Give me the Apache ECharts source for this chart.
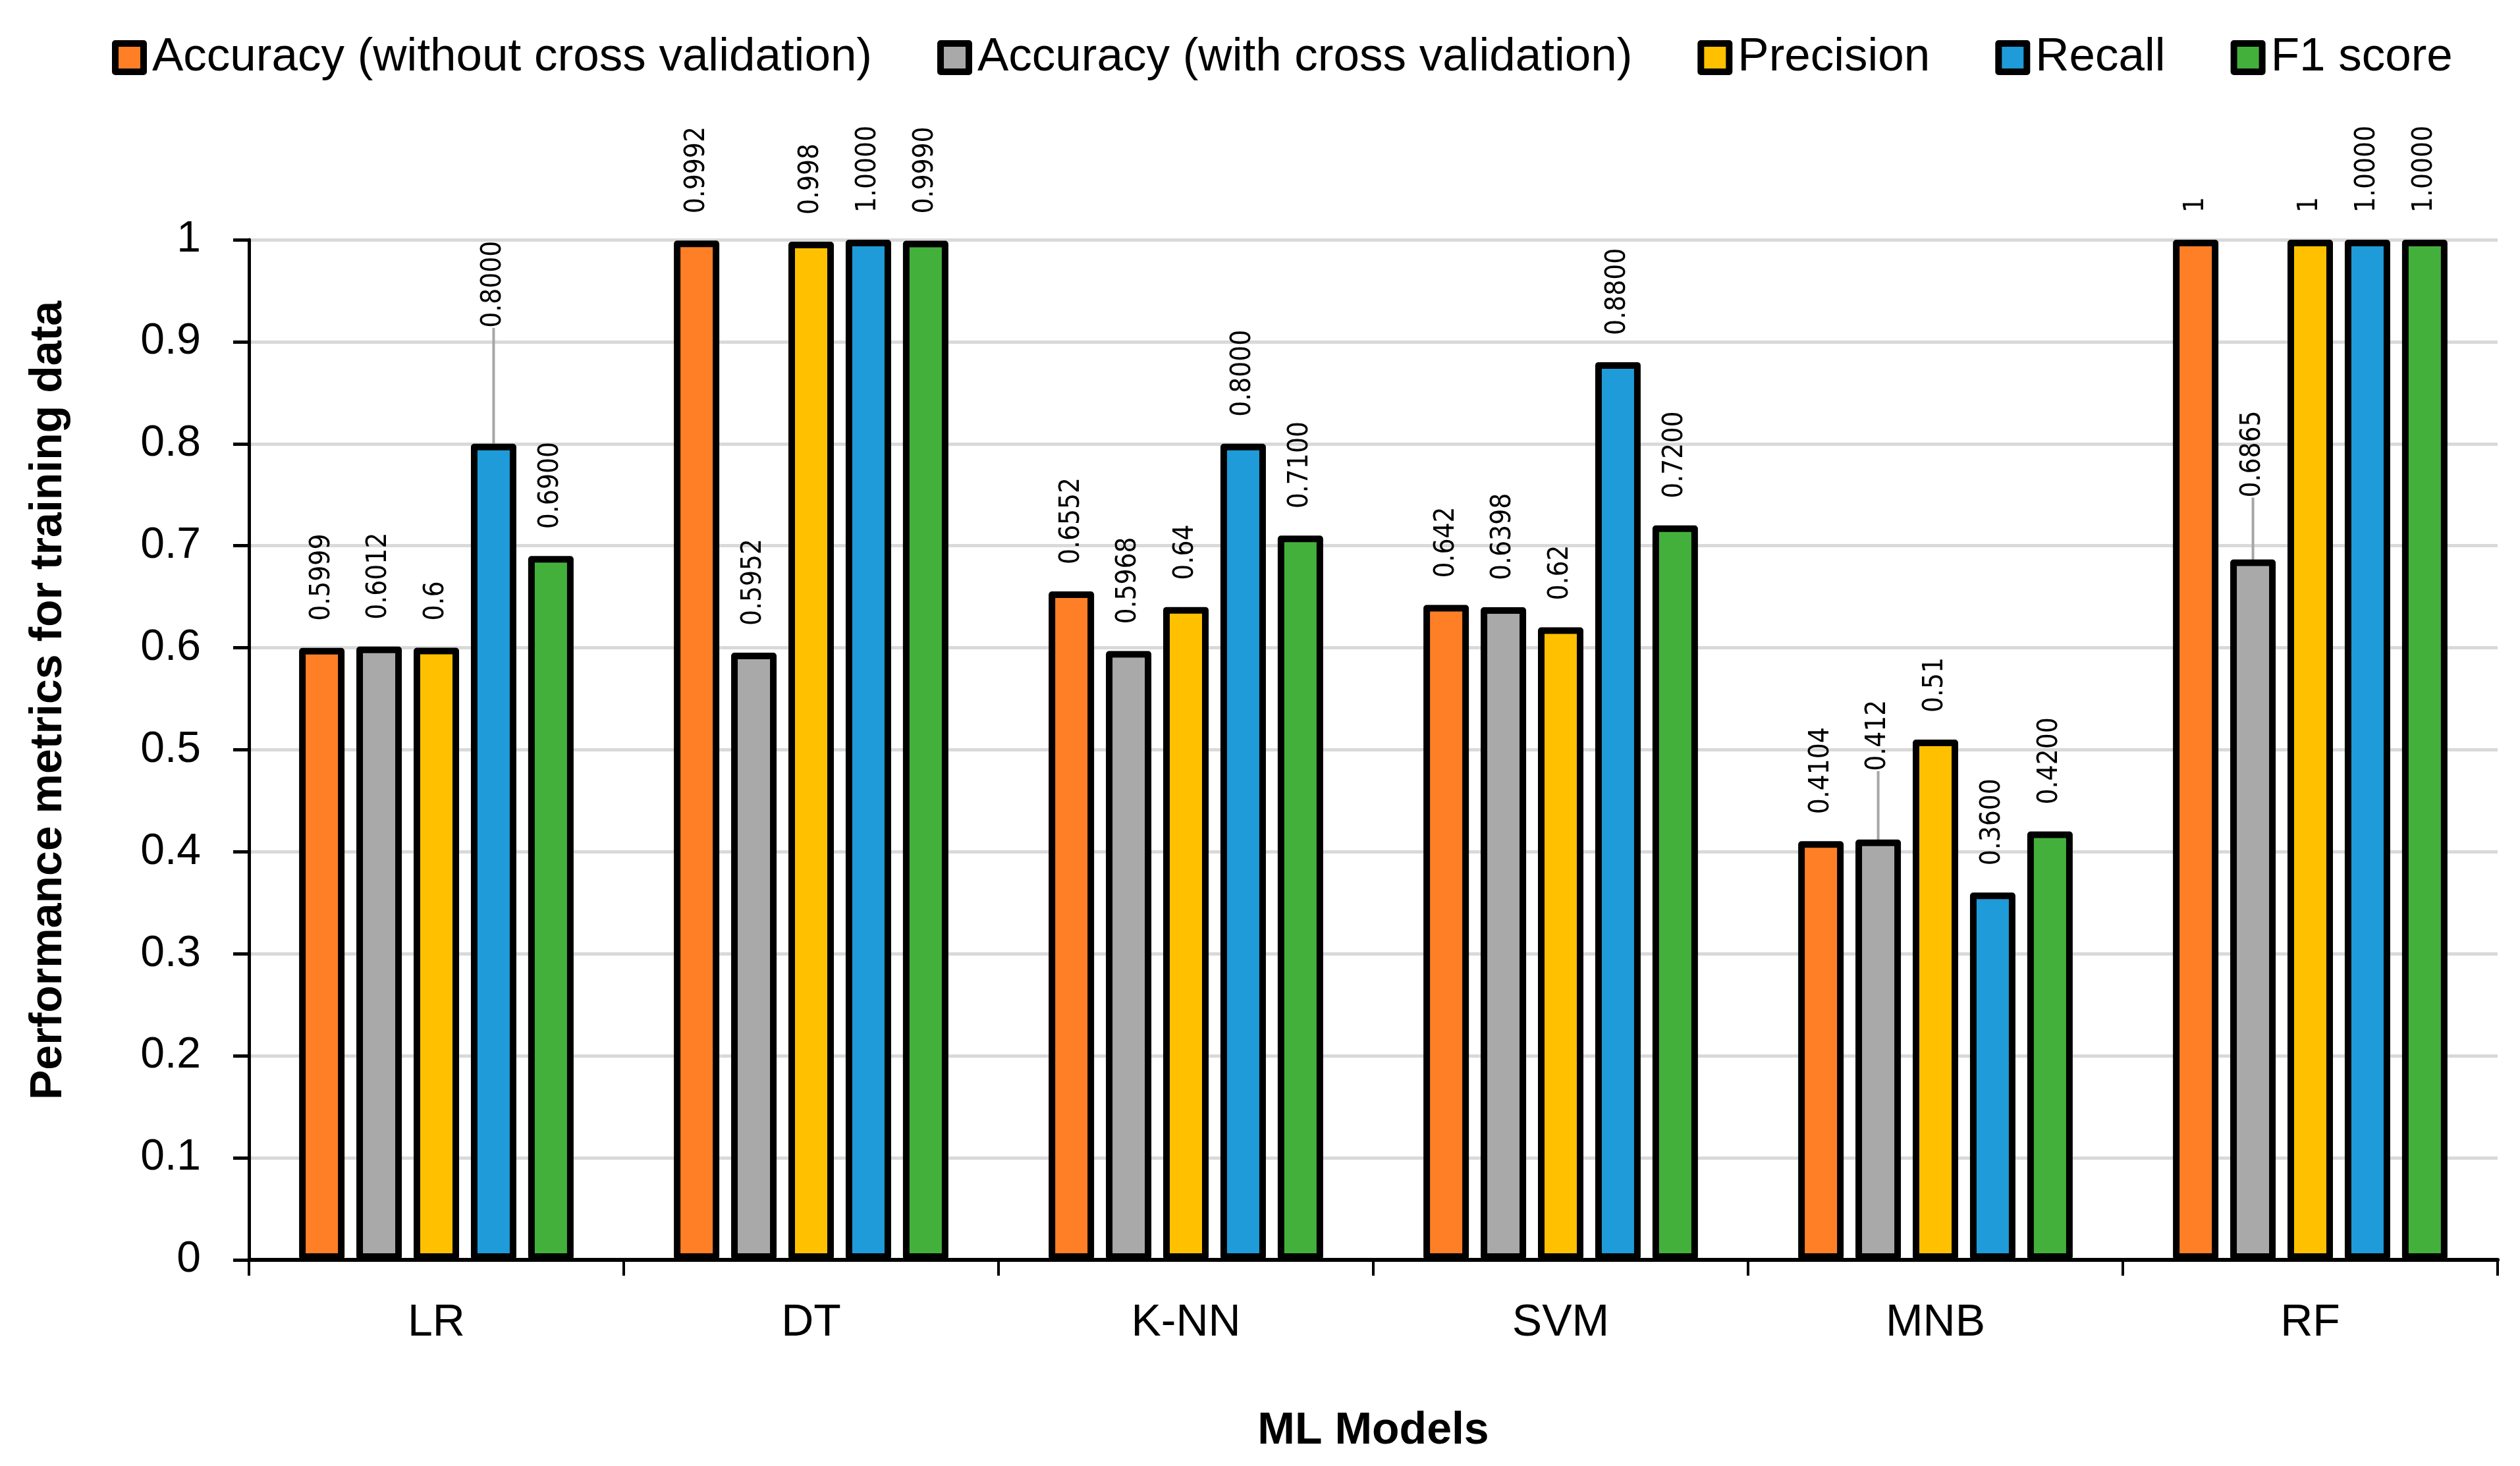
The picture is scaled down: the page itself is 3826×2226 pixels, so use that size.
<!DOCTYPE html>
<html><head><meta charset="utf-8">
<script src="https://cdn.jsdelivr.net/npm/echarts@6/dist/echarts.min.js"></script>
<style>html,body{margin:0;padding:0;background:#fff}#c{width:3826px;height:2226px}</style>
</head><body><div id="c"></div>
<script>
const categories = ['LR', 'DT', 'K-NN', 'SVM', 'MNB', 'RF'];
const seriesNames = ['Accuracy (without cross validation)', 'Accuracy (with cross validation)', 'Precision', 'Recall', 'F1 score'];
const accNoCV = [0.5999, 0.9992, 0.6552, 0.642, 0.4104, 1];
const accCV = [0.6012, 0.5952, 0.5968, 0.6398, 0.412, 0.6865];
const precision = [0.6, 0.998, 0.64, 0.62, 0.51, 1];
const recall = [0.8, 1, 0.8, 0.88, 0.36, 1];
const f1 = [0.69, 0.999, 0.71, 0.72, 0.42, 1];
const yMin = 0, yMax = 1, yStep = 0.1;

// styling
const colors = ['#FF7F27', '#A9A9A9', '#FFC000', '#1E9BD8', '#44B03C'];
const labelDecimals = [null, null, null, 4, 4];
// labels moved by hand in the original (pixel offsets upward, with leader line)
const labelShifts = [{}, {4: 63, 5: 53}, {}, {0: 135}, {}];

const values = [accNoCV, accCV, precision, recall, f1];
const FONT = 'Liberation Sans, Arial, sans-serif';

const chart = echarts.init(document.getElementById('c'), null, {renderer: 'canvas'});

const series = values.map((vals, si) => ({
  name: seriesNames[si],
  type: 'bar',
  barWidth: 69,
  barGap: '26%',
  clip: false,
  itemStyle: {color: colors[si], borderColor: '#000', borderWidth: 10, borderJoin: 'round'},
  label: {
    show: true,
    position: 'top',
    rotate: 90,
    align: 'left',
    verticalAlign: 'middle',
    distance: 41,
    fontFamily: 'DejaVu Sans Condensed, DejaVu Sans, sans-serif',
    fontSize: 42,
    color: '#000',
    formatter: p => labelDecimals[si] ? Number(p.value).toFixed(labelDecimals[si]) : String(p.value)
  },
  labelLayout: p => {
    const d = labelShifts[si][p.dataIndex];
    return d ? {dx: d} : {};
  },
  data: vals.map((v, i) => labelShifts[si][i] ? {
    value: v,
    labelLine: {show: true, lineStyle: {color: '#A6A6A6', width: 4}}
  } : v)
}));

chart.setOption({
  animation: false,
  backgroundColor: '#fff',
  legend: {
    left: 170,
    top: 52,
    padding: 0,
    itemWidth: 43,
    itemHeight: 43,
    itemGap: 99,
    icon: 'rect',
    itemStyle: {borderColor: '#000', borderWidth: 10},
    textStyle: {fontFamily: FONT, fontSize: 71, color: '#000', padding: [0, 0, 0, 8]},
    data: seriesNames
  },
  grid: {left: 378, right: 34, top: 364, bottom: 313, containLabel: false},
  xAxis: {
    type: 'category',
    data: categories,
    name: 'ML Models',
    nameLocation: 'middle',
    nameGap: 226,
    nameTextStyle: {fontFamily: FONT, fontSize: 68, fontWeight: 'bold', color: '#000'},
    axisLine: {show: true, lineStyle: {color: '#000', width: 6}},
    axisTick: {show: true, length: 24, lineStyle: {color: '#000', width: 4}},
    axisLabel: {fontFamily: FONT, fontSize: 68, color: '#000', margin: 62},
    splitLine: {show: false}
  },
  yAxis: {
    type: 'value',
    min: yMin,
    max: yMax,
    interval: yStep,
    name: 'Performance metrics for training data',
    nameLocation: 'middle',
    nameGap: 270,
    nameTextStyle: {fontFamily: FONT, fontSize: 68, fontWeight: 'bold', color: '#000', padding: [0, 0, 0, 150]},
    axisLine: {show: true, lineStyle: {color: '#000', width: 5}},
    axisTick: {show: true, length: 24, lineStyle: {color: '#000', width: 5}},
    axisLabel: {fontFamily: FONT, fontSize: 66, color: '#000', margin: 73},
    splitLine: {show: true, lineStyle: {color: '#D9D9D9', width: 5}}
  },
  series: series
});
</script></body></html>
